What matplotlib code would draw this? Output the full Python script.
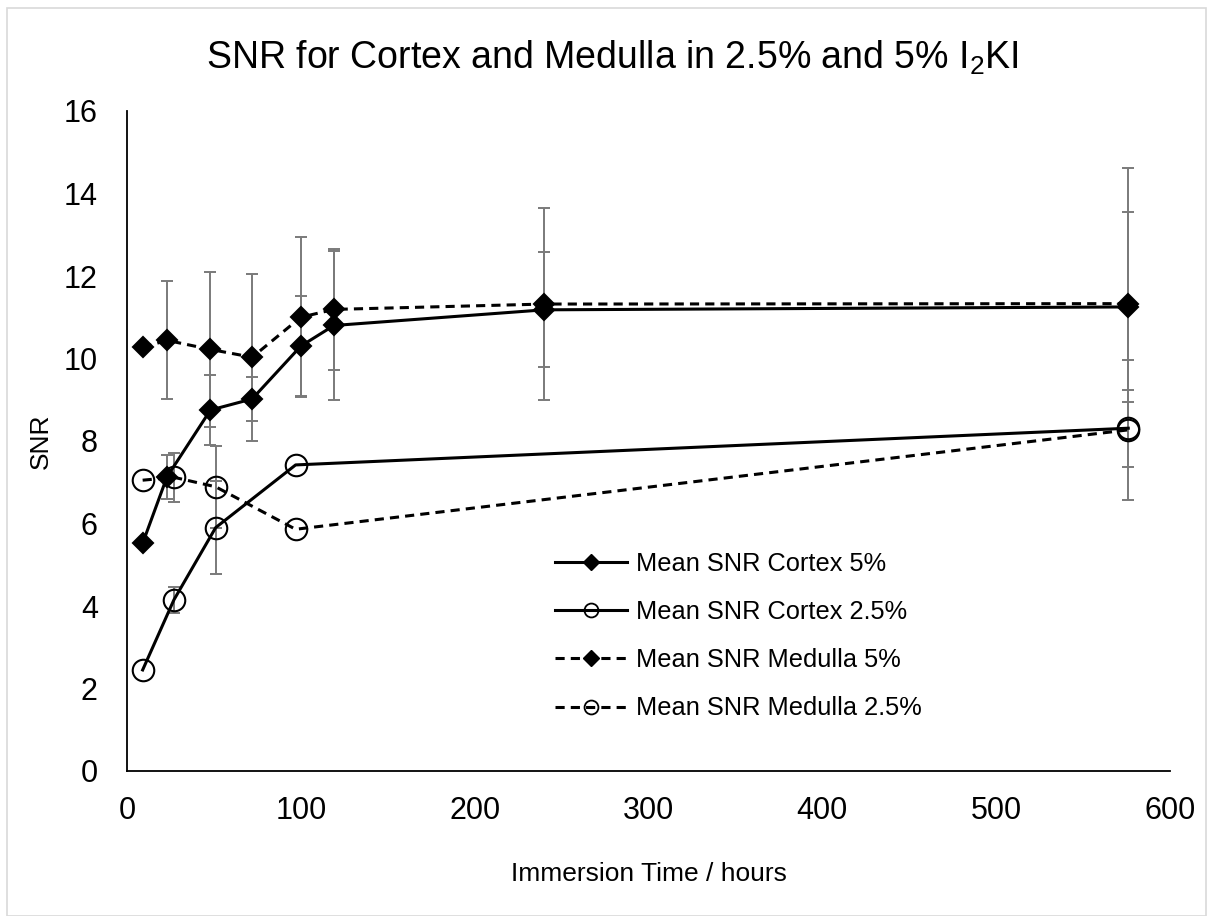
import matplotlib
matplotlib.use("Agg")
import matplotlib.pyplot as plt
from matplotlib.lines import Line2D
from matplotlib.patches import Rectangle

plt.rcParams['font.family'] = ['Liberation Sans', 'DejaVu Sans']
plt.rcParams['mathtext.fontset'] = 'custom'
plt.rcParams['mathtext.rm'] = 'Liberation Sans'
plt.rcParams['mathtext.it'] = 'Liberation Sans'

# Immersion times (hours)
hours_5 = [9, 23, 48, 72, 100, 119, 240, 576]
hours_25 = [9, 27, 51, 97, 576]

# Mean SNR and error (±) per series
cortex_5 = [5.52, 7.13, 8.75, 9.02, 10.30, 10.80, 11.18, 11.25]
cortex_5_err = [0, 0.53, 0.84, 0.53, 1.21, 1.80, 1.39, 2.30]
medulla_5 = [10.27, 10.44, 10.22, 10.03, 11.00, 11.19, 11.32, 11.33]
medulla_5_err = [0, 1.43, 1.87, 2.03, 1.94, 1.47, 2.32, 3.30]
cortex_25 = [2.45, 4.15, 5.90, 7.42, 8.31]
cortex_25_err = [0, 0.32, 1.12, 0, 0.93]
medulla_25 = [7.05, 7.12, 6.89, 5.86, 8.27]
medulla_25_err = [0, 0.60, 1.00, 0, 1.70]

labels = ["Mean SNR Cortex 5%", "Mean SNR Cortex 2.5%",
          "Mean SNR Medulla 5%", "Mean SNR Medulla 2.5%"]

W, H, DPI = 1213, 916, 100
fig = plt.figure(figsize=(W / DPI, H / DPI), dpi=DPI)
fig.patches.append(Rectangle((7 / W, 0), (W - 14) / W, (H - 8) / H,
                             transform=fig.transFigure, fill=False,
                             edgecolor='#d9d9d9', linewidth=1.2))

ax = fig.add_axes([127 / W, 1 - 771 / H, (1170 - 127) / W, (771 - 111) / H])

err_kw = dict(fmt='none', ecolor='#7a7a7a', elinewidth=1.4, capsize=4.3,
              capthick=1.4, zorder=1)
dash = (0, (3, 2))
series = [
    (hours_5, cortex_5, cortex_5_err, '-', 'D', 'black', 10.5),
    (hours_25, cortex_25, cortex_25_err, '-', 'o', 'none', 15.5),
    (hours_5, medulla_5, medulla_5_err, dash, 'D', 'black', 10.5),
    (hours_25, medulla_25, medulla_25_err, dash, 'o', 'none', 15.5),
]
for x, y, e, ls, mk, fc, ms in series:
    xe = [xi for xi, ei in zip(x, e) if ei > 0]
    ye = [yi for yi, ei in zip(y, e) if ei > 0]
    ee = [ei for ei in e if ei > 0]
    ax.errorbar(xe, ye, yerr=ee, **err_kw)
for x, y, e, ls, mk, fc, ms in series:
    ax.plot(x, y, linestyle=ls, color='black', linewidth=2.2, marker=mk,
            markersize=ms, markerfacecolor=fc, markeredgecolor='black',
            markeredgewidth=1.5, zorder=3)

ax.set_xlim(0, 600)
ax.set_ylim(0, 16)
ax.set_xticks(range(0, 601, 100))
ax.set_yticks(range(0, 17, 2))
ax.tick_params(length=0, labelsize=22)
ax.tick_params(axis='x', pad=18)
ax.tick_params(axis='y', pad=21)
for s in ('top', 'right'):
    ax.spines[s].set_visible(False)
for s in ('left', 'bottom'):
    ax.spines[s].set_linewidth(1.3)
    ax.spines[s].set_color('black')

ax.set_xlabel("Immersion Time / hours", fontsize=19, labelpad=26)
ax.set_ylabel("SNR", fontsize=19, labelpad=8)
fig.text(0.505, 1 - 58 / H, r"SNR for Cortex and Medulla in 2.5% and 5% I$_\mathrm{2}$KI",
         ha='center', va='center', fontsize=27)

handles = [
    Line2D([], [], color='black', lw=2.2, ls='-', marker='D', ms=8, mfc='black'),
    Line2D([], [], color='black', lw=2.2, ls='-', marker='o', ms=10, mfc='none', mew=1.3),
    Line2D([], [], color='black', lw=2.2, ls=dash, marker='D', ms=8, mfc='black'),
    Line2D([], [], color='black', lw=2.2, ls=dash, marker='o', ms=10, mfc='none', mew=1.3),
]
ax.legend(handles, labels, loc='upper left', frameon=False, fontsize=18.3,
          bbox_to_anchor=((555 - 127) / (1170 - 127), (771 - 552) / 660),
          handlelength=2.85, handletextpad=0.35, labelspacing=0.95,
          borderaxespad=0, borderpad=0)

fig.savefig("out.png", dpi=DPI)
